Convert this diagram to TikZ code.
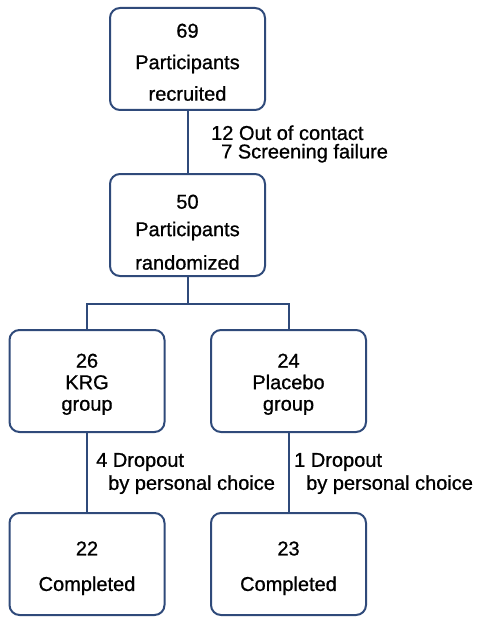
\documentclass[tikz,border=0pt]{standalone}
\usepackage{fontspec}
\setmainfont{Liberation Sans}[UprightFeatures={FakeBold=0.8}]
\usepackage{tikz}
\usetikzlibrary{calc}
\usepackage{xcolor}
\definecolor{boxblue}{RGB}{47,74,122}
\newcommand{\lift}[1]{\rule{0pt}{#1}}

\begin{document}
\begin{tikzpicture}[x=1pt,y=-1pt,
    box/.style={draw=boxblue, line width=2pt, rounded corners=10pt,
                minimum width=155pt, minimum height=102pt, align=center,
                inner sep=0pt, font=\fontsize{20}{21.5}\selectfont},
    link/.style={draw=boxblue, line width=2pt},
    note/.style={anchor=west, align=left, inner sep=0pt}]
    \useasboundingbox (0,0) rectangle (476,623);

    % Enrolment
    \node[box] (recruit) at (187.5,59) {\lift{20.5pt}69\\[10pt]Participants\\[10pt]recruited};
    \node[box] (random) at (187.5,225) {\lift{28.5pt}50\\[6pt]Participants\\[12pt]randomized};
    \node[note, font=\fontsize{20}{18.5}\selectfont] (excluded) at (211,144)
        {12 Out of contact\\\hspace*{10pt}7 Screening failure};

    % Allocation
    \node[box] (krg) at (87,381) {\lift{20.5pt}26\\KRG\\group};
    \node[box] (placebo) at (288.5,381) {\lift{20.5pt}24\\Placebo\\group};

    % Completion
    \node[box] (done1) at (87,564) {\lift{22.5pt}22\\[14pt]Completed};
    \node[box] (done2) at (288.5,564) {\lift{22.5pt}23\\[14pt]Completed};
    \node[note, font=\fontsize{20}{23}\selectfont] (drop1) at (96,473.5)
        {4 Dropout\\\hspace*{12pt}by personal choice};
    \node[note, font=\fontsize{20}{23}\selectfont] (drop2) at (294,473.5)
        {1 Dropout\\\hspace*{12pt}by personal choice};

    % Connectors
    \coordinate (fork) at (187.5,304);
    \draw[link] (recruit) -- (random);
    \draw[link] (random) -- (fork);
    \draw[link] (krg.north) |- (fork) -| (placebo.north);
    \draw[link] (krg) -- (done1);
    \draw[link] (placebo) -- (done2);
\end{tikzpicture}
\end{document}
